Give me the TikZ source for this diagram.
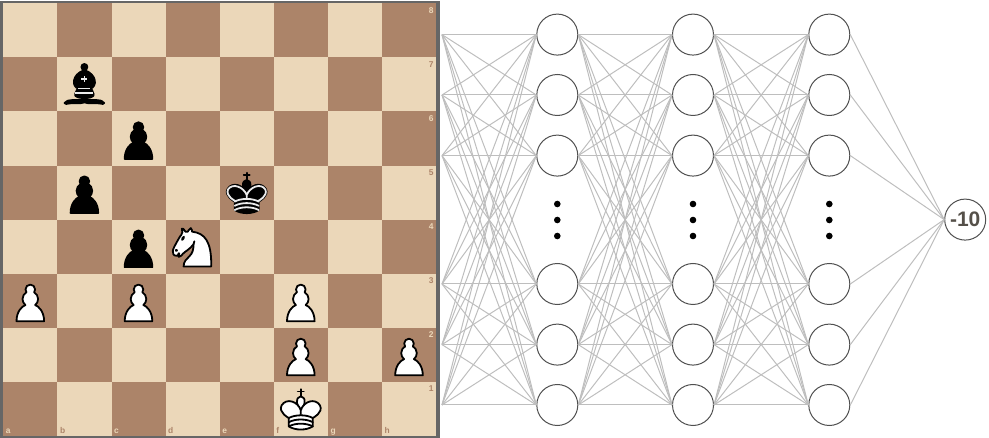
\documentclass[tikz,border=0pt]{standalone}
\usepackage{fontspec}
\setmainfont{Liberation Sans}
\usepackage{xcolor}
\usetikzlibrary{svg.path}
\definecolor{lightsq}{HTML}{EBD7B9}
\definecolor{darksq}{HTML}{AC8469}
\definecolor{framecol}{HTML}{666666}
\definecolor{wirecol}{HTML}{BEBEBE}
\definecolor{ringcol}{HTML}{505050}
\definecolor{scorecol}{HTML}{555049}
\tikzset{
  onsquare/.style 2 args={shift={(3.3+54.1*#1,3.3+54.1*#2)}, xscale=1.2, yscale=-1.2},
  piecew/.style={draw=black, fill=white, line width=1.8pt, line join=round, line cap=round},
  pieceb/.style={draw=black, fill=black, line width=1.8pt, line join=round, line cap=round},
  inlay/.style={draw=white!92!black, line width=1.8pt, line join=round, line cap=round},
  neuron/.style={circle, draw=ringcol, fill=white, line width=1pt, minimum size=41pt, inner sep=0pt},
  wire/.style={draw=wirecol, line width=1pt},
  gapdot/.style={circle, fill=black, minimum size=6.6pt, inner sep=0pt},
  coordlabel/.style={font=\bfseries\fontsize{8.4}{8.4}\selectfont, inner sep=0pt},
}
\newcommand{\pawnshape}{M 22.5 9 c -2.21 0 -4 1.79 -4 4 c 0 0.89 0.29 1.71 0.78 2.38 C 17.33 16.5 16 18.59 16 21 c 0 2.03 0.94 3.84 2.41 5.03 c -3 1.06 -7.41 5.55 -7.41 13.47 h 23 c 0 -7.92 -4.41 -12.41 -7.41 -13.47 c 1.47 -1.19 2.41 -3 2.41 -5.03 c 0 -2.41 -1.33 -4.5 -3.28 -5.62 c 0.49 -0.67 0.78 -1.49 0.78 -2.38 c 0 -2.21 -1.79 -4 -4 -4 z}
\newcommand{\kingbody}{M 12.5 37 c 5.5 3.5 14.5 3.5 20 0 v -7 c 0 0 9 -4.5 6 -10.5 c -4 -6.5 -13.5 -3.5 -16 4 V 27 v -3.5 c -2.5 -7.5 -12 -10.5 -16 -4 c -3 6 6 10.5 6 10.5 v 7}
\newcommand{\kingorb}{M 22.5 25 c 0 0 4.5 -7.5 3 -10.5 c 0 0 -1 -2.5 -3 -2.5 c -2 0 -3 2.5 -3 2.5 c -1.5 3 3 10.5 3 10.5}
\newcommand{\kingbands}{M 12.5 30 c 5.5 -3 14.5 -3 20 0 M 12.5 33.5 c 5.5 -3 14.5 -3 20 0 M 12.5 37 c 5.5 -3 14.5 -3 20 0}
\newcommand{\shapepath}[2]{\edef\shapecmd{\noexpand\path[#1] svg {#2};}\shapecmd}
\newcommand{\whitepawn}[2]{\begin{scope}[onsquare={#1}{#2}]
    \shapepath{piecew}{\pawnshape}
  \end{scope}}
\newcommand{\blackpawn}[2]{\begin{scope}[onsquare={#1}{#2}]
    \shapepath{pieceb}{\pawnshape}
  \end{scope}}
\newcommand{\whiteking}[2]{\begin{scope}[onsquare={#1}{#2}]
    \path[piecew] svg {M 22.5 11.63 V 6 M 20 8 h 5};
    \shapepath{piecew}{\kingorb}
    \shapepath{piecew}{\kingbody}
    \shapepath{piecew, fill=none}{\kingbands}
  \end{scope}}
\newcommand{\blackking}[2]{\begin{scope}[onsquare={#1}{#2}]
    \path[pieceb] svg {M 22.5 11.63 V 6 M 20 8 h 5};
    \shapepath{pieceb}{\kingorb}
    \shapepath{pieceb}{\kingbody}
    \path[inlay] svg {M 32 29.5 c 0 0 8.5 -4 6.03 -9.65 C 34.15 14 25 18 22.5 24.5 v 2.1 v -2.1 C 20 18 10.85 14 6.97 19.85 C 4.5 25.5 13 29.5 13 29.5};
    \shapepath{inlay}{\kingbands}
  \end{scope}}
\newcommand{\blackbishop}[2]{\begin{scope}[onsquare={#1}{#2}]
    \path[pieceb, line cap=butt] svg {M 9 36 c 3.39 -0.97 10.11 0.43 13.5 -2 c 3.39 2.43 10.11 1.03 13.5 2 c 0 0 1.65 0.54 3 2 c -0.68 0.97 -1.65 0.99 -3 0.5 c -3.39 -0.97 -10.11 0.46 -13.5 -1 c -3.39 1.46 -10.11 0.03 -13.5 1 c -1.35 0.49 -2.32 0.47 -3 -0.5 c 1.35 -1.46 3 -2 3 -2 z};
    \path[pieceb, line cap=butt] svg {M 15 32 c 2.5 2.5 12.5 2.5 15 0 c 0.5 -1.5 0 -2 0 -2 c 0 -2.5 -2.5 -4 -2.5 -4 c 5.5 -1.5 6 -11.5 -5 -15.5 c -11 4 -10.5 14 -5 15.5 c 0 0 -2.5 1.5 -2.5 4 c 0 0 -0.5 0.5 0 2 z};
    \path[pieceb, line cap=butt] svg {M 25 8 a 2.5 2.5 0 1 1 -5 0 a 2.5 2.5 0 1 1 5 0 z};
    \path[inlay, line cap=butt] svg {M 17.5 26 h 10 M 15 30 h 15 M 22.5 15.5 v 5 M 20 18 h 5};
  \end{scope}}
\newcommand{\whiteknight}[2]{\begin{scope}[onsquare={#1}{#2}]
    \path[piecew] svg {M 22 10 c 10.5 1 16.5 8 16 29 H 15 c 0 -9 10 -6.5 8 -21};
    \path[piecew] svg {M 24 18 c 0.38 2.91 -5.55 7.37 -8 9 c -3 2 -2.82 4.34 -5 4 c -1.042 -0.94 1.41 -3.04 0 -3 c -1 0 0.19 1.23 -1 2 c -1 0 -4.003 1 -4 -4 c 0 -2 6 -12 6 -12 c 0 0 1.89 -1.9 2 -3.5 c -0.73 -0.994 -0.5 -2 -0.5 -3 c 1 -1 3 2.5 3 2.5 h 2 c 0 0 0.78 -1.992 2.5 -3 c 1 0 1 3 1 3};
    \path[pieceb] svg {M 9.5 25.5 a 0.5 0.5 0 1 1 -1 0 a 0.5 0.5 0 1 1 1 0 z};
    \path[pieceb] svg {M 14.933 15.75 a 0.5 1.5 30 1 1 -0.866 -0.5 a 0.5 1.5 30 1 1 0.866 0.5 z};
  \end{scope}}

\begin{document}
\begin{tikzpicture}[x=1pt, y=-1pt]
  \useasboundingbox (0,0) rectangle (989,438);
  \fill[framecol] (0,1) rectangle (439.5,438);
  \foreach \col in {0,...,7}
    \foreach \row in {0,...,7} {
      \pgfmathparse{int(mod(\col+\row,2))}
      \ifnum\pgfmathresult=0 \def\sqcol{lightsq}\else \def\sqcol{darksq}\fi
      \fill[\sqcol] (3.3+54.1*\col,3.3+54.1*\row) rectangle ++(54.1,54.1);
    }
  \foreach \lab/\col/\tint in {a/0/lightsq,b/1/darksq,c/2/lightsq,d/3/darksq,e/4/lightsq,f/5/darksq,g/6/lightsq,h/7/darksq}
    \node[coordlabel, text=\tint, anchor=base west] (file\lab) at (5.7+54.1*\col,433.5) {\lab};
  \foreach \lab/\row/\tint in {8/0/lightsq,7/1/darksq,6/2/lightsq,5/3/darksq,4/4/lightsq,3/5/darksq,2/6/lightsq,1/7/darksq}
    \node[coordlabel, text=\tint, anchor=base east] (rank\lab) at (433.8,13.3+54.1*\row) {\lab};
  \blackbishop{1}{1}
  \blackpawn{2}{2}
  \blackpawn{1}{3}
  \blackking{4}{3}
  \blackpawn{2}{4}
  \whiteknight{3}{4}
  \whitepawn{0}{5}
  \whitepawn{2}{5}
  \whitepawn{5}{5}
  \whitepawn{5}{6}
  \whitepawn{7}{6}
  \whiteking{5}{7}
  % network
  \foreach \n/\ypos in {1/34.6,2/95,3/155.6,4/284,5/344.6,6/405} {
    \coordinate (in\n) at (442,\ypos);
    \node[neuron] (a\n) at (557.3,\ypos) {};
    \node[neuron] (b\n) at (693,\ypos) {};
    \node[neuron] (c\n) at (829.3,\ypos) {};
  }
  \node[neuron, font=\bfseries\fontsize{21}{21}\selectfont, text=scorecol] (out) at (965.2,219.6) {-10};
  \foreach \colx/\dotcol in {557.3/a,693/b,829.3/c}
    \foreach \ypos/\k in {204/1,220/2,236/3}
      \node[gapdot] (dot\dotcol\k) at (\colx,\ypos) {};
  \foreach \i in {1,...,6} {
    \foreach \j in {1,...,6} {
      \draw[wire] (in\i) -- (a\j.west);
      \draw[wire] (a\i.east) -- (b\j.west);
      \draw[wire] (b\i.east) -- (c\j.west);
    }
    \draw[wire] (c\i.east) -- (out.west);
  }
\end{tikzpicture}
\end{document}
